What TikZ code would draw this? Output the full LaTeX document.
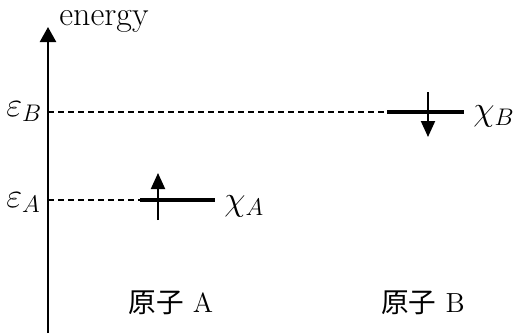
\documentclass[tikz,border=0pt]{standalone}
\usepackage{fontspec}
\newfontfamily\cjk{Noto Sans CJK JP}
\usetikzlibrary{arrows.meta,positioning}
\tikzset{
  level/.style={line width=2pt},
  guide/.style={dash pattern=on 3pt off 2pt, line width=0.7pt},
  spin/.style={-{Triangle[length=8pt,width=7pt]}, line width=1pt},
  axis/.style={-{Triangle[length=7.5pt,width=8pt]}, line width=1.2pt},
  lbl/.style={font=\fontsize{17}{20}\selectfont, inner sep=0pt},
  atom/.style={font=\fontsize{13.8}{16}\selectfont, inner sep=0pt}
}

\begin{document}
\begin{tikzpicture}[x=0.5pt,y=-0.5pt]
  \useasboundingbox (0,0) rectangle (513,333);

  % energy axis
  \coordinate (origin) at (48,333);
  \coordinate (top) at (48,27);
  \draw[axis] (origin) -- (top);
  \node[lbl, anchor=base west] (energy) at (59,25) {energy};

  % atomic levels
  \coordinate (axA) at (48,200);
  \coordinate (lvAl) at (140,200);
  \coordinate (lvAr) at (215,200);
  \coordinate (axB) at (48,112);
  \coordinate (lvBl) at (387,112);
  \coordinate (lvBr) at (464,112);
  \draw[guide] (axA) -- (lvAl);
  \draw[guide] (axB) -- (lvBl);
  \draw[level] (lvAl) -- (lvAr);
  \draw[level] (lvBl) -- (lvBr);

  % electrons
  \coordinate (spAs) at (158,220);
  \coordinate (spAe) at (158,173);
  \coordinate (spBs) at (428,92);
  \coordinate (spBe) at (428,137);
  \draw[spin] (spAs) -- (spAe);
  \draw[spin] (spBs) -- (spBe);

  % labels
  \node[lbl, anchor=base west] (epsA) at (6,207) {$\varepsilon_A$};
  \node[lbl, anchor=base west] (epsB) at (6,116) {$\varepsilon_B$};
  \node[lbl, anchor=base west] (chiA) at (224,210) {$\chi_A$};
  \node[lbl, anchor=base west] (chiB) at (473,120) {$\chi_B$};
  \node[atom, anchor=base] (atomA) at (171,312) {{\cjk 原子} A};
  \node[atom, anchor=base] (atomB) at (423,312) {{\cjk 原子} B};
\end{tikzpicture}
\end{document}
